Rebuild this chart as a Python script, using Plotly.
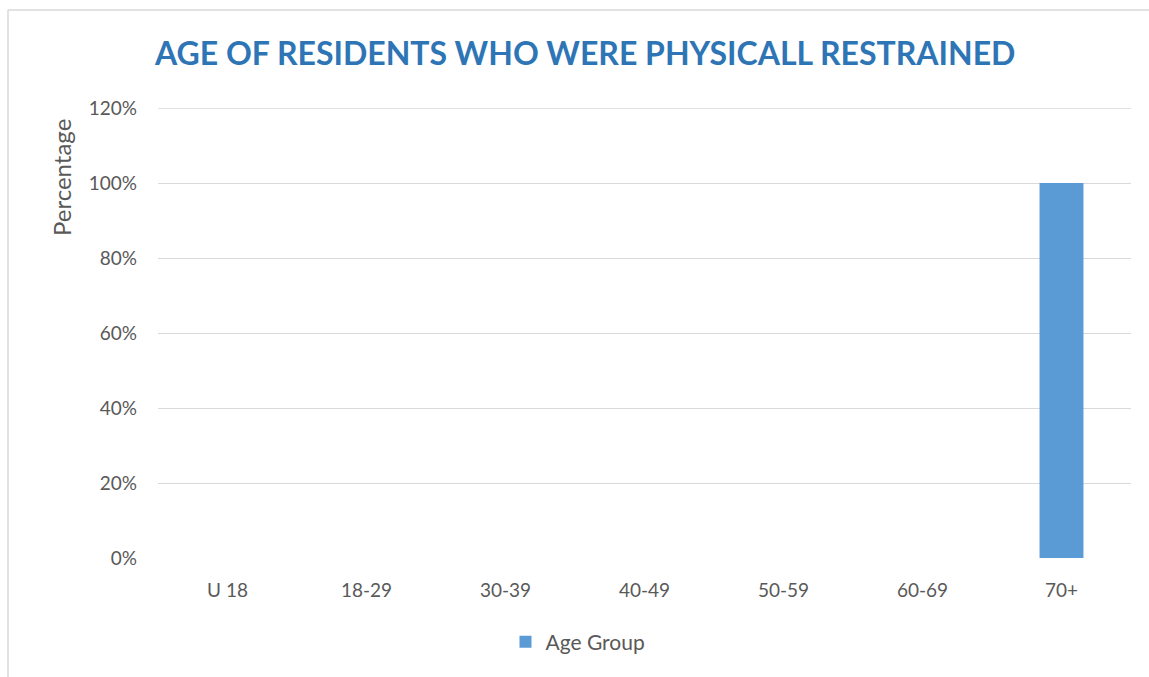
import plotly.graph_objects as go

categories = ["U 18", "18-29", "30-39", "40-49", "50-59", "60-69", "70+"]
values = [0, 0, 0, 0, 0, 0, 1.0]
series_name = "Age Group"
title_text = "AGE OF RESIDENTS WHO WERE PHYSICALL RESTRAINED"
y_title = "Percentage"
y_max = 1.2

W, H = 1149, 677
ML, MR, MT, MB = 158, 18, 108, 119
PW, PH = W - ML - MR, H - MT - MB

def px(x):
    return (x - ML) / PW

def py(y):
    return (H - MB - y) / PH

fig = go.Figure()
fig.add_trace(go.Bar(x=categories, y=values, name=series_name,
                     marker=dict(color="#5B9BD5", line=dict(width=0))))

font_family = "Lato"
grey = "#595959"
grid = "#D9D9D9"

fig.update_layout(
    width=W, height=H,
    margin=dict(l=ML, r=MR, t=MT, b=MB, autoexpand=False),
    paper_bgcolor="white", plot_bgcolor="white",
    bargap=0.684,
    showlegend=True,
    legend=dict(orientation="h", x=px(578), xanchor="center", y=py(642), yanchor="middle",
                font=dict(family=font_family, size=21, color=grey), itemwidth=30),
    xaxis=dict(showgrid=False, showline=False, zeroline=False, ticks="",
               tickfont=dict(family=font_family, size=19, color=grey),
               ticklabelstandoff=19),
    yaxis=dict(range=[0, y_max], dtick=0.2, tickformat=".0%", showgrid=True,
               gridcolor=grid, gridwidth=1.3, zeroline=False, showline=False,
               ticks="", tickfont=dict(family=font_family, size=19, color=grey),
               ticklabelstandoff=20),
    annotations=[
        dict(text="<b>" + title_text + "</b>", xref="paper", yref="paper",
             x=px(152), y=py(52), xanchor="left", yanchor="middle", showarrow=False,
             font=dict(family=font_family, size=32, color="#2E75B6")),
        dict(text=y_title, xref="paper", yref="paper", x=px(61), y=py(178),
             xanchor="center", yanchor="middle", textangle=-90, showarrow=False,
             font=dict(family=font_family, size=24, color=grey)),
    ],
    shapes=[
        dict(type="line", xref="paper", yref="y", x0=0, x1=1, y0=y_max, y1=y_max,
             line=dict(color=grid, width=1.3), layer="below"),
        dict(type="line", xref="paper", yref="paper", x0=px(8), x1=px(1160), y0=py(10), y1=py(10),
             line=dict(color=grid, width=1.5)),
        dict(type="line", xref="paper", yref="paper", x0=px(8), x1=px(8), y0=py(10), y1=py(700),
             line=dict(color=grid, width=1.5)),
    ],
)

fig.write_html("out.html")
